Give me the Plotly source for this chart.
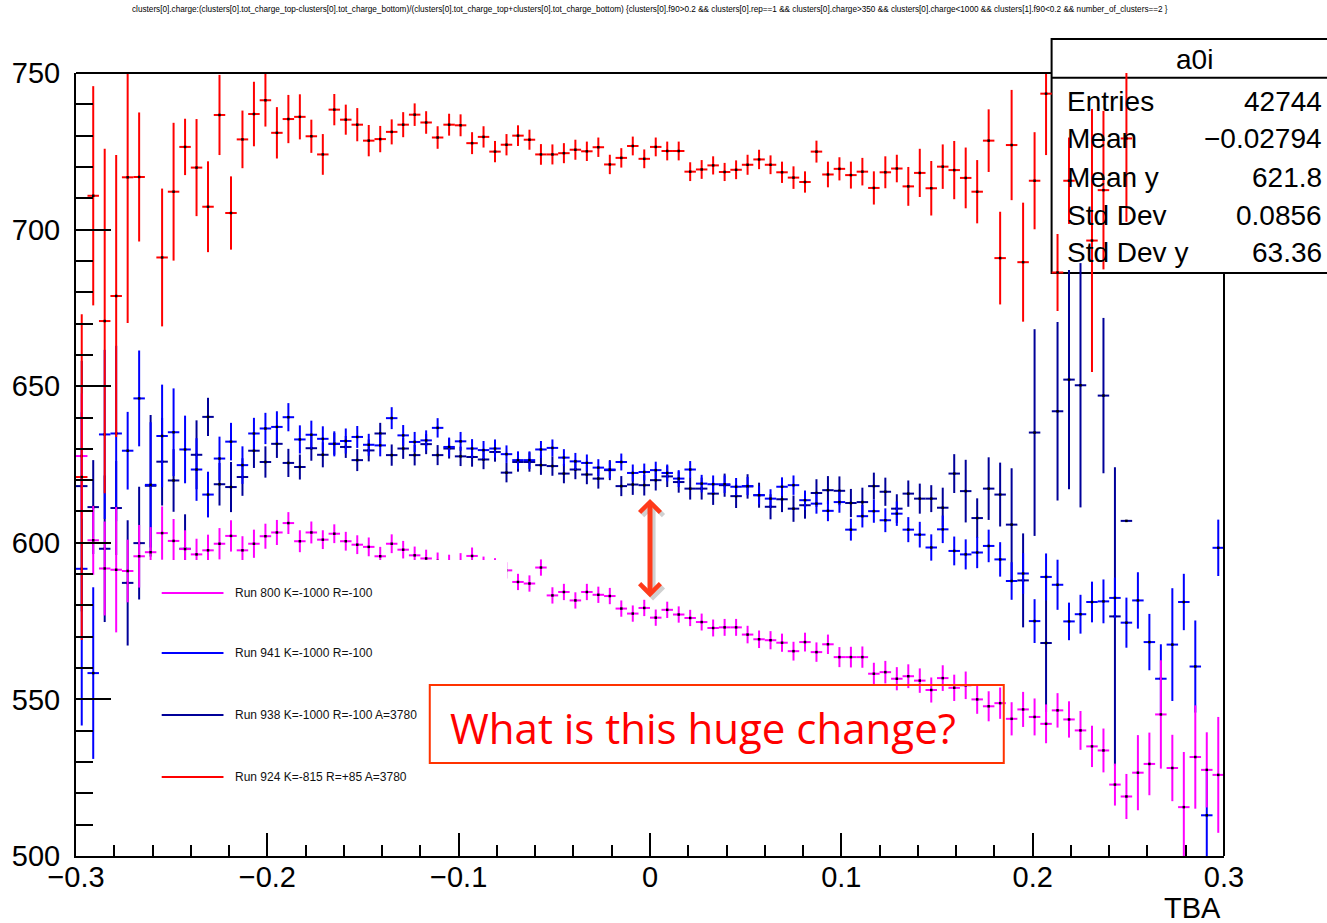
import plotly.graph_objects as go

# ---------------- data (histogram profiles, 100 bins in TBA from -0.3 to 0.3) ----------------
N_BINS = 100
X_MIN, X_MAX = -0.3, 0.3
BIN_W = (X_MAX - X_MIN) / N_BINS
bin_centers = [round(X_MIN + BIN_W * (i + 0.5), 4) for i in range(N_BINS)]

run938_y = [618.1, 611.4, 598.1, 611.1, 587.2, 599.9, 618.2, 625.9, 619.9, 598.1,
            628.1, 640.2, 618.7, 617.8, 621.0, 629.4, 625.8, 631.6, 625.5, 624.2,
            630.2, 628.1, 631.6, 630.6, 626.4, 629.5, 634.9, 628.0, 630.1, 628.0,
            631.5, 628.0, 630.1, 627.6, 627.4, 626.6, 629.0, 622.4, 625.8, 625.8,
            624.8, 624.5, 622.1, 623.4, 621.8, 620.5, 623.2, 618.1, 618.6, 618.4,
            620.0, 621.2, 619.4, 617.3, 617.3, 615.7, 618.4, 614.9, 618.0, 615.2,
            611.5, 613.9, 610.9, 612.0, 615.9, 616.8, 616.6, 612.7, 613.0, 618.1,
            616.3, 610.9, 615.7, 614.1, 614.1, 611.2, 622.1, 616.5, 607.9, 617.3,
            615.4, 605.8, 588.0, 635.2, 568.0, 642.0, 652.1, 650.3, None, 647.0,
            576.5, 607.0, None, None, None, None, None, None, None, None]
run938_err = [40, 15, 23.4, 15, 20, 18, 22.6, 14, 10, 11,
              11, 6.1, 6.8, 8, 6, 5.5, 5, 4.5, 4.5, 4,
              4, 4, 3.5, 3.5, 3.5, 3.5, 3.4, 3.4, 3.3, 3.3,
              3.2, 3.2, 3.2, 3.1, 3.1, 3.1, 3.1, 3.1, 3.1, 3.1,
              3.1, 3.1, 3.1, 3.1, 3.1, 3.2, 3.2, 3.2, 3.3, 3.3,
              3.3, 3.4, 3.4, 3.5, 3.5, 3.6, 3.7, 3.8, 3.9, 4.0,
              4.0, 4.1, 4.2, 4.3, 4.4, 4.5, 4.6, 4.5, 4.6, 4.3,
              4.5, 4.6, 4.2, 4.8, 4.3, 6.4, 6.2, 10, 6.3, 10,
              10.2, 18, 15, 33, 22, 28.5, 35, 39, 0, 24.8,
              47.6, 0, 0, 0, 0, 0, 0, 0, 0, 0]

run941_y = [591.7, 558.4, 634.6, 634.9, 629.4, 646.1, 618.5, 634.1, 635.3, 629.8,
            623.4, 615.4, 626.9, 632.3, 624.8, 634.9, 636.5, 637.0, 640.1, 633.0,
            634.5, 633.2, 631.6, 632.5, 633.8, 631.3, 631.1, 639.8, 634.3, 632.2,
            632.7, 636.7, 630.6, 632.4, 630.1, 629.6, 630.1, 628.3, 626.4, 626.4,
            629.8, 630.3, 627.2, 626.0, 625.5, 624.0, 623.4, 625.8, 622.3, 622.6,
            623.2, 622.3, 620.5, 623.4, 618.9, 618.7, 618.7, 617.9, 618.1, 615.2,
            614.1, 617.9, 618.4, 613.6, 612.5, 610.2, 613.0, 604.2, 608.5, 610.1,
            607.2, 609.3, 604.2, 602.6, 598.5, 604.3, 597.4, 596.3, 596.9, 599.0,
            594.7, 587.8, 590.2, 575.0, 589.1, 586.6, 574.9, 577.2, 581.1, 581.3,
            582.4, 574.5, 581.6, 568.3, 556.6, 567.5, 581.1, 560.5, 513.0, 598.4]
run941_err = [50, 27.4, 27, 28, 12.4, 15.3, 20, 16.4, 14, 10.8,
              10, 7.3, 7, 6, 6, 5, 5, 5, 4.5, 4.5,
              4.5, 4, 4, 4, 3.5, 3.5, 3.5, 3.5, 3.3, 3.2,
              3.2, 3.1, 3.0, 3.0, 3.0, 2.9, 2.9, 2.8, 2.8, 2.8,
              2.7, 2.7, 2.7, 2.7, 2.7, 2.7, 2.7, 2.7, 2.7, 2.7,
              2.7, 2.7, 2.7, 2.7, 2.8, 2.8, 2.8, 2.8, 2.9, 2.9,
              3.0, 3.0, 3.1, 3.1, 3.2, 3.3, 3.4, 3.5, 3.6, 3.7,
              3.8, 3.9, 4.0, 4.1, 4.2, 4.4, 4.6, 4.8, 5.0, 5.2,
              5.5, 6.0, 6.5, 7.0, 7.5, 8.0, 6.0, 6.2, 6.5, 7.0,
              6.5, 8.0, 9.0, 9.0, 11.0, 18.0, 9.0, 14.7, 14.0, 9.0]

run800_y = [627.7, 600.8, 591.8, 591.4, 591.0, 595.7, 597.0, 603.1, 600.6, 598.0,
            596.3, 597.6, 599.7, 602.2, 597.6, 599.7, 602.1, 603.3, 606.3, 600.5,
            603.3, 601.0, 602.9, 600.5, 599.4, 598.7, 595.7, 599.7, 597.8, 596.0,
            595.0, 594.2, 593.5, 594.0, 595.8, 593.0, 592.5, 591.2, 587.5, 587.0,
            592.1, 583.2, 584.3, 581.6, 584.3, 583.4, 583.0, 579.0, 577.4, 579.2,
            576.1, 578.6, 577.1, 576.0, 574.7, 572.8, 573.0, 573.0, 570.7, 569.2,
            568.9, 568.1, 565.4, 568.3, 565.1, 567.6, 563.5, 563.5, 563.5, 558.2,
            558.7, 556.6, 557.4, 556.0, 553.0, 556.8, 553.7, 554.5, 550.0, 547.8,
            548.8, 543.8, 546.8, 544.4, 542.2, 546.5, 543.6, 540.1, 535.0, 533.7,
            522.8, 519.0, 526.6, 529.4, 545.2, 528.1, 515.6, 531.6, 527.5, 525.9]
run800_err = [20, 11, 15, 20, 10, 10, 8, 8.5, 7, 6,
              5, 5, 5, 5, 4.5, 4.5, 4, 4, 3.5, 3.5,
              3.5, 3, 3, 3, 3, 3, 3, 3, 2.8, 2.8,
              2.8, 2.7, 2.7, 2.7, 2.7, 2.6, 2.6, 2.6, 2.6, 2.6,
              2.6, 2.6, 2.6, 2.6, 2.6, 2.6, 2.6, 2.6, 2.6, 2.6,
              2.6, 2.6, 2.6, 2.6, 2.7, 2.7, 2.7, 2.7, 2.8, 2.8,
              2.9, 2.9, 3.0, 3.0, 3.1, 3.1, 3.2, 3.3, 3.4, 3.5,
              3.6, 3.7, 3.8, 3.9, 4.0, 4.1, 4.2, 4.4, 4.6, 4.8,
              5.0, 5.3, 5.6, 5.9, 6.2, 5.5, 5.8, 6.2, 6.6, 7.0,
              6.7, 7.2, 12, 10, 17.3, 10.6, 17.6, 16.5, 12, 18.5]

run924_y = [621.0, 710.8, 670.8, 678.8, 716.7, 716.8, None, 691.1, 712.1, 726.4,
            719.8, 707.3, 736.6, 705.3, 728.8, 736.9, 741.3, 730.9, 735.3, 736.0,
            729.8, 724.0, 738.3, 735.1, 733.5, 728.4, 728.9, 731.2, 733.5, 736.7,
            734.2, 729.4, 733.5, 733.3, 727.6, 729.6, 724.9, 727.1, 730.0, 728.7,
            724.0, 724.0, 724.4, 725.5, 725.0, 726.3, 720.8, 722.9, 726.7, 722.6,
            726.4, 725.1, 725.1, 718.5, 719.2, 720.5, 718.4, 719.1, 720.7, 722.4,
            720.7, 718.3, 716.6, 715.2, 724.9, 717.6, 719.4, 717.4, 718.5, 713.3,
            718.3, 719.5, 713.8, 718.1, 713.2, 720.1, 719.0, 716.5, 712.1, 728.4,
            690.9, 727.0, 689.6, 715.6, 743.4, 686.3, 715.6, None, 696.5, 712.6,
            None, 729.1, None, None, None, None, None, None, None, None]
run924_err = [52, 35, 55, 45, 46.5, 20.6, 0, 22, 22, 9,
              15.5, 14.5, 12.8, 11.7, 9.2, 10.3, 8.4, 8.2, 7.7, 7.2,
              5.3, 6.5, 5.0, 4.8, 5.3, 5.0, 4.2, 4.0, 4.0, 3.6,
              3.6, 3.6, 3.5, 3.5, 3.5, 3.4, 3.4, 3.4, 3.3, 3.2,
              3.3, 3.2, 3.2, 3.2, 3.1, 3.1, 3.1, 3.1, 3.0, 3.0,
              3.0, 3.0, 3.0, 3.0, 3.0, 2.9, 2.9, 3.0, 3.2, 3.1,
              3.0, 3.4, 3.6, 3.4, 3.5, 4.1, 3.7, 4.3, 4.4, 5.3,
              5.1, 4.4, 6.2, 7.7, 8.7, 7.1, 9.3, 9.7, 10.1, 10.0,
              14.8, 17.6, 19.0, 15.5, 19.6, 12.3, 13.8, 0, 42.0, 25.3,
              0, 26.6, 0, 0, 0, 0, 0, 0, 0, 0]

series_names = ["Run 800 K=-1000 R=-100",
                "Run 941 K=-1000 R=-100",
                "Run 938 K=-1000 R=-100 A=3780",
                "Run 924 K=-815 R=+85 A=3780"]
series_colors = ["#ff00ff", "#0000ff", "#000099", "#ff0000"]

stats_labels = ["Entries", "Mean", "Mean y", "Std Dev", "Std Dev y"]
stats_values = ["42744", "\u22120.02794", "621.8", "0.0856", "63.36"]
stats_title = "a0i"

title_text = ("clusters[0].charge:(clusters[0].tot_charge_top-clusters[0].tot_charge_bottom)/"
              "(clusters[0].tot_charge_top+clusters[0].tot_charge_bottom) {clusters[0].f90>0.2 && "
              "clusters[0].rep==1 && clusters[0].charge>350 && clusters[0].charge<1000 && "
              "clusters[1].f90<0.2 && number_of_clusters==2 }")
note_text = "What is this huge change?"
arrow_from, arrow_to = 614.5, 582.6   # y values of the two arrow tips at TBA = 0

# ---------------- layout geometry ----------------
W, H = 1327, 923
ML, MR, MT, MB = 72, 103, 73, 67
PW, PH = W - ML - MR, H - MT - MB
FONT = "Liberation Sans, Arial, Helvetica, sans-serif"


def pxx(p):
    return (p - ML) / PW


def pxy(p):
    return (H - MB - p) / PH


def make_trace(ys, errs, color, name):
    xs, yv, ev = [], [], []
    for x, y, e in zip(bin_centers, ys, errs):
        if y is not None:
            xs.append(x)
            yv.append(y)
            ev.append(e)
    return go.Scatter(
        x=xs, y=yv, mode="markers", name=name, showlegend=False,
        marker=dict(symbol="square", size=2.5, color="black", line=dict(width=0)),
        error_y=dict(type="data", array=ev, color=color, thickness=2, width=0),
        error_x=dict(type="constant", value=BIN_W / 2, color=color, thickness=2, width=0),
        hoverinfo="x+y",
    )


fig = go.Figure()
# drawing order: navy (first histogram, owner of stats box), blue, magenta, red
fig.add_trace(make_trace(run938_y, run938_err, series_colors[2], series_names[2]))
fig.add_trace(make_trace(run941_y, run941_err, series_colors[1], series_names[1]))
fig.add_trace(make_trace(run800_y, run800_err, series_colors[0], series_names[0]))
fig.add_trace(make_trace(run924_y, run924_err, series_colors[3], series_names[3]))

shapes = []
annotations = []

# stats box (white, under the data drawn with "same")
SB_L, SB_R, SB_T, SB_B, SB_SEP = 1051, 1334, 39, 273, 77.7
shapes.append(dict(type="rect", xref="paper", yref="paper", layer="below",
                   x0=pxx(SB_L), x1=pxx(SB_R), y0=pxy(SB_B), y1=pxy(SB_T),
                   line=dict(color="black", width=2), fillcolor="white"))
shapes.append(dict(type="line", xref="paper", yref="paper", layer="below",
                   x0=pxx(SB_L), x1=pxx(SB_R), y0=pxy(SB_SEP), y1=pxy(SB_SEP),
                   line=dict(color="black", width=2)))
# frame top and right parts (not covered by the stats box)
shapes.append(dict(type="line", xref="paper", yref="paper", layer="above",
                   x0=0, x1=pxx(SB_L), y0=1, y1=1, line=dict(color="black", width=2)))
shapes.append(dict(type="line", xref="paper", yref="paper", layer="above",
                   x0=1, x1=1, y0=0, y1=pxy(SB_B), line=dict(color="black", width=2)))

annotations.append(dict(xref="paper", yref="paper", x=pxx(1194), y=pxy(60),
                        text=stats_title, showarrow=False, xanchor="center", yanchor="middle",
                        font=dict(family=FONT, size=28, color="black")))
row_y = [101, 138, 177, 215, 252]
for lab, val, ry in zip(stats_labels, stats_values, row_y):
    annotations.append(dict(xref="paper", yref="paper", x=pxx(1064), y=pxy(ry), text=lab,
                            showarrow=False, xanchor="left", yanchor="middle",
                            font=dict(family=FONT, size=28, color="black")))
    annotations.append(dict(xref="paper", yref="paper", x=pxx(1324), y=pxy(ry), text=val,
                            showarrow=False, xanchor="right", yanchor="middle",
                            font=dict(family=FONT, size=28, color="black")))

# legend box (white, covers data)
LG_L, LG_R, LG_T, LG_B = 140, 505, 560, 805
shapes.append(dict(type="rect", xref="paper", yref="paper", layer="above",
                   x0=pxx(LG_L), x1=pxx(LG_R), y0=pxy(LG_B), y1=pxy(LG_T),
                   line=dict(width=0), fillcolor="white"))
legend_rows = [593, 653, 715, 777]
for name, col, ry in zip(series_names, series_colors, legend_rows):
    shapes.append(dict(type="line", xref="paper", yref="paper", layer="above",
                       x0=pxx(158), x1=pxx(220), y0=pxy(ry), y1=pxy(ry),
                       line=dict(color=col, width=2)))
    annotations.append(dict(xref="paper", yref="paper", x=pxx(230), y=pxy(ry), text=name,
                            showarrow=False, xanchor="left", yanchor="middle",
                            font=dict(family=FONT, size=12, color="#111111")))

# note box
shapes.append(dict(type="rect", xref="paper", yref="paper", layer="above",
                   x0=pxx(427), x1=pxx(1003), y0=pxy(763), y1=pxy(685),
                   line=dict(color="#ff3300", width=2), fillcolor="rgba(0,0,0,0)"))
annotations.append(dict(xref="paper", yref="paper", x=pxx(445), y=pxy(727), text=note_text,
                        showarrow=False, xanchor="left", yanchor="middle",
                        font=dict(family="Open Sans, sans-serif", size=42, color="#ff0000")))

# double arrow (with soft shadow)
annotations.append(dict(x=0.0016, y=arrow_to - 1.0, ax=0.0016, ay=arrow_from - 1.0,
                        xref="x", yref="y", axref="x", ayref="y", text="", showarrow=True,
                        arrowhead=4, startarrowhead=4, arrowside="end+start",
                        arrowsize=0.8, startarrowsize=0.8, arrowwidth=5,
                        arrowcolor="rgba(0,0,0,0.18)"))
annotations.append(dict(x=0, y=arrow_to, ax=0, ay=arrow_from,
                        xref="x", yref="y", axref="x", ayref="y", text="", showarrow=True,
                        arrowhead=4, startarrowhead=4, arrowside="end+start",
                        arrowsize=0.8, startarrowsize=0.8, arrowwidth=5,
                        arrowcolor="#ff3a1a"))

# title and axis title
annotations.append(dict(xref="paper", yref="paper", x=pxx(648), y=pxy(10), text=title_text,
                        showarrow=False, xanchor="center", yanchor="middle",
                        font=dict(family=FONT, size=8.2, color="black")))
annotations.append(dict(xref="paper", yref="paper", x=pxx(1223), y=pxy(908), text="TBA",
                        showarrow=False, xanchor="right", yanchor="middle",
                        font=dict(family=FONT, size=29, color="black")))

fig.update_layout(
    width=W, height=H,
    margin=dict(l=ML, r=MR, t=MT, b=MB, pad=0),
    paper_bgcolor="white", plot_bgcolor="white",
    showlegend=False,
    shapes=shapes, annotations=annotations,
    xaxis=dict(range=[X_MIN, X_MAX], tick0=-0.3, dtick=0.1, ticks="inside", ticklen=23,
               tickwidth=2, tickcolor="black", showline=True, linecolor="black", linewidth=2,
               mirror=False, showgrid=False, zeroline=False,
               tickfont=dict(family=FONT, size=29, color="black"), ticklabelstandoff=-6,
               minor=dict(ticks="inside", ticklen=11, dtick=0.02, tickwidth=2,
                          tickcolor="black", showgrid=False)),
    yaxis=dict(range=[500, 750], tick0=500, dtick=50, ticks="inside", ticklen=35,
               tickwidth=2, tickcolor="black", showline=True, linecolor="black", linewidth=2,
               mirror=False, showgrid=False, zeroline=False,
               tickfont=dict(family=FONT, size=29, color="black"), ticklabelstandoff=8,
               minor=dict(ticks="inside", ticklen=17, dtick=10, tickwidth=2,
                          tickcolor="black", showgrid=False)),
)

fig.write_html("out.html")
